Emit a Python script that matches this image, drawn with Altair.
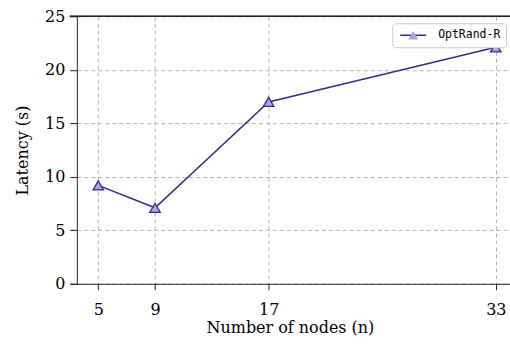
import altair as alt
import pandas as pd

nodes = [5, 9, 17, 33]
latency = [9.2, 7.1, 17.0, 22.1]
series = ["OptRand-R"] * 4
x_ticks = [5, 9, 17, 33]
y_ticks = [0, 5, 10, 15, 20, 25]

df = pd.DataFrame({"n": nodes, "latency": latency, "series": series})

LINE = "#332e8c"
FILL = "#aaa4d8"
SERIF = "DejaVu Serif"
MONO = "DejaVu Sans Mono"
W, H = 441, 268
LX, LY = 323, 7

x = alt.X("n:Q", scale=alt.Scale(domain=[3, 34], nice=False, zero=False),
          axis=alt.Axis(values=x_ticks, title="Number of nodes (n)", tickSize=6,
                        labelPadding=12, titlePadding=2, grid=True))
y = alt.Y("latency:Q", scale=alt.Scale(domain=[0, 25], nice=False),
          axis=alt.Axis(values=y_ticks, title="Latency (s)", offset=-7, tickSize=7,
                        labelPadding=5, titlePadding=14, grid=True))

line = alt.Chart(df).mark_line(strokeWidth=1.5).encode(
    x=x, y=y,
    color=alt.Color("series:N", scale=alt.Scale(range=[LINE]),
                    legend=alt.Legend(orient="none", legendX=LX, legendY=LY, title=None,
                                      symbolType="stroke", symbolSize=676, clipHeight=14,
                                      symbolStrokeWidth=1.5, symbolStrokeColor=LINE,
                                      symbolOffset=2,
                                      labelFont=MONO, labelFontSize=11.5,
                                      labelColor="#000", labelOffset=11,
                                      padding=5, strokeColor="#cccccc", cornerRadius=3,
                                      fillColor="white"))
)

points = alt.Chart(df).mark_point(filled=True, fill=FILL, stroke=LINE,
                                  strokeWidth=1.3, size=110, opacity=1).encode(
    x="n:Q", y="latency:Q",
    shape=alt.Shape("series:N", scale=alt.Scale(range=["triangle-up"]),
                    legend=alt.Legend(orient="none", legendX=LX, legendY=LY, title=None,
                                      symbolSize=100, clipHeight=14,
                                      symbolFillColor=FILL, symbolStrokeColor=LINE,
                                      symbolStrokeWidth=1.3, symbolOpacity=1,
                                      symbolOffset=10,
                                      labelExpr="''", labelFontSize=1,
                                      padding=5)),
)

top = alt.Chart(df).mark_rule(color="#222", strokeWidth=1).encode(
    x=alt.value(0), x2=alt.value(W), y=alt.value(0))

chart = alt.layer(line, points, top).properties(
    width=W, height=H,
    autosize=alt.AutoSizeParams(type="none"),
    padding={"left": 70, "top": 16, "right": 0, "bottom": 63},
).configure_view(stroke=None).configure_axis(
    labelFont=SERIF, labelFontSize=16, labelColor="#000",
    titleFont=SERIF, titleFontSize=16, titleFontWeight="normal", titleColor="#000",
    domainColor="#222", tickColor="#222", domainWidth=1, tickWidth=1,
    gridColor="#b5b5b5", gridDash=[4, 3], gridWidth=1,
)

chart.save("out.html", embed_options={"renderer": "svg", "actions": False})
